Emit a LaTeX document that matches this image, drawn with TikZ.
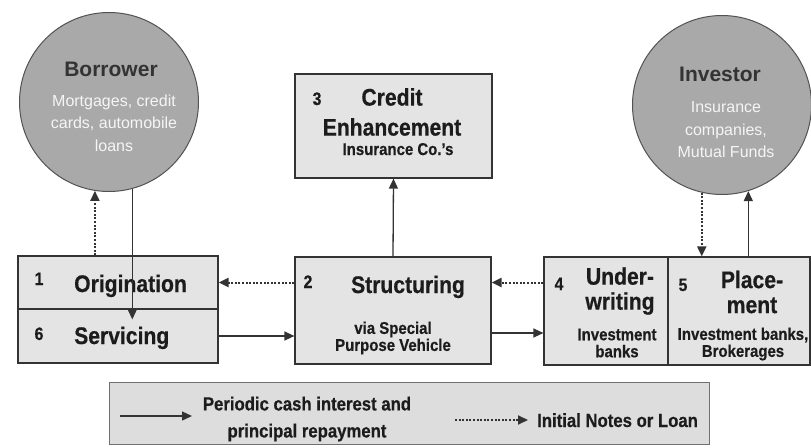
\documentclass[tikz,border=0pt]{standalone}
\usepackage{fontspec}
\setmainfont[FakeStretch=0.88, BoldFeatures={FakeBold=0.5}]{Liberation Sans}
\newfontfamily\ballfont{Liberation Sans}
\usetikzlibrary{arrows.meta}
\definecolor{boxgray}{HTML}{E4E4E4}
\definecolor{keygray}{HTML}{DDDDDD}
\definecolor{ballgray}{HTML}{A9A9A9}
\definecolor{inkgray}{HTML}{1C1C1C}
\definecolor{edgegray}{HTML}{333333}
\tikzset{
        stage/.style={rectangle, draw=edgegray, line width=1.2pt, fill=boxgray, inner sep=0pt},
        party/.style={circle, draw=edgegray!85, line width=1pt, fill=ballgray, inner sep=0pt, minimum size=179pt},
        title/.style={font=\fontsize{24}{25}\selectfont\bfseries, text=inkgray, inner sep=0pt, align=center},
        sub/.style={font=\fontsize{17}{17}\selectfont\bfseries, text=inkgray, inner sep=0pt, align=center},
        num/.style={font=\fontsize{18}{18}\selectfont\bfseries, text=inkgray, inner sep=0pt, anchor=base},
        balltitle/.style={font=\ballfont\fontsize{21}{21}\selectfont\bfseries, text=edgegray, inner sep=0pt, anchor=base},
        balltext/.style={font=\ballfont\fontsize{16}{22.5}\selectfont, text=white!92!gray, inner sep=0pt, align=center},
        cash/.style={-{Triangle[length=10pt,width=9pt]}, draw=edgegray, line width=1.3pt},
        loan/.style={-{Triangle[length=10pt,width=9pt]}, draw=edgegray, line width=2pt, dash pattern=on 2pt off 1.6pt}
    }
\begin{document}
\begin{tikzpicture}[x=1pt,y=-1pt]
\useasboundingbox (0,0) rectangle (811,447);

\node[party] (BR) at (109,102) {};
\node[party] (IV) at (722,105) {};
\node[stage, minimum width=197pt, minimum height=104pt] (CE) at (393.5,126) {};
\node[stage, minimum width=200pt, minimum height=53pt] (OR) at (118,282.5) {};
\node[stage, minimum width=200pt, minimum height=54pt] (SV) at (118,336) {};
\node[stage, minimum width=196pt, minimum height=107pt] (ST) at (393,310.5) {};
\node[stage, minimum width=124pt, minimum height=108pt] (UW) at (606,311) {};
\node[stage, minimum width=142pt, minimum height=108pt] (PL) at (739,311) {};
\node[stage, draw=edgegray!70, fill=keygray, line width=0.8pt, minimum width=600pt, minimum height=62pt] (KEY) at (409,413) {};

\node[balltitle] (BRt) at (111,76) {Borrower};
\node[balltext] (BRs) at (114,123) {Mortgages, credit\\cards, automobile\\loans};
\node[balltitle] (IVt) at (720,81) {Investor};
\node[balltext] (IVs) at (726,130) {Insurance\\companies,\\Mutual Funds};

\node[num] (n3) at (317,105) {3};
\node[title, font=\fontsize{24}{30}\selectfont\bfseries] (CEt) at (392,112) {Credit\\Enhancement};
\node[sub, anchor=base] (CEs) at (398,155) {Insurance Co.'s};

\node[num] (n1) at (39,285) {1};
\node[title, anchor=base west] (ORt) at (74,292) {Origination};
\node[num] (n6) at (39,340) {6};
\node[title, anchor=base west] (SVt) at (74,344) {Servicing};

\node[num] (n2) at (308,288) {2};
\node[title, anchor=base] (STt) at (408,293) {Structuring};
\node[sub] (STs) at (393,338) {via Special\\Purpose Vehicle};

\node[num] (n4) at (559,290) {4};
\node[title] (UWt) at (620,291) {Under-\\writing};
\node[sub] (UWs) at (617,343) {Investment\\banks};
\node[num] (n5) at (683,291) {5};
\node[title] (PLt) at (752,292) {Place-\\ment};
\node[sub] (PLs) at (743,344) {Investment banks,\\Brokerages};

\draw[loan] (BR.261 |- OR.north) -- (BR.261);
\draw[cash] (BR.285) -- ([yshift=-11pt]BR.285 |- SV.north);
\draw[cash] (ST.north) -- (CE.south);
\draw[loan] (ST.west |- OR.east) -- (OR.east);
\draw[cash] (SV.east) -- (SV.east -| ST.west);
\draw[loan] (UW.west |- OR.east) -- (ST.east |- OR.east);
\draw[cash] (ST.east |- 0,333) -- (UW.west |- 0,333);
\draw[loan] (IV.257) -- (IV.257 |- PL.north);
\draw[cash] (IV.287 |- PL.north) -- (IV.287);

\coordinate (c1) at (120,416);
\coordinate (c2) at (192,416);
\draw[cash] (c1) -- (c2);
\node[sub, font=\fontsize{19}{27}\selectfont\bfseries] (CASHt) at (307,419) {Periodic cash interest and\\principal repayment};
\coordinate (l1) at (455,420);
\coordinate (l2) at (528,420);
\draw[loan] (l1) -- (l2);
\node[sub, font=\fontsize{19}{19}\selectfont\bfseries, anchor=base west] (LOANt) at (537,427) {Initial Notes or Loan};

\end{tikzpicture}
\end{document}
